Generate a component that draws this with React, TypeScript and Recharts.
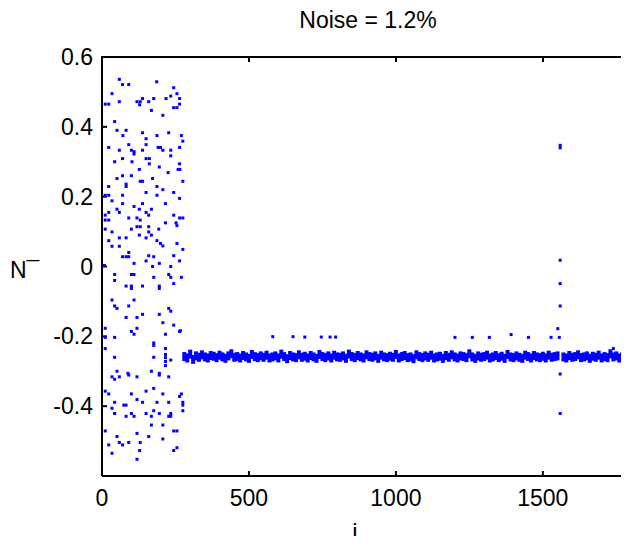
import React from 'react';
import { ScatterChart, Scatter, XAxis, YAxis } from 'recharts';

// scattered start of the run (i < ~280)
const scatterI = [
  59, 70, 91, 186, 244, 34, 138, 176, 218, 234, 255, 264, 11, 23, 59, 119, 130, 128, 159, 264,
  244, 255, 168, 207, 43, 51, 82, 138, 227, 71, 187, 270, 150, 275, 91, 150, 23, 191, 199, 59,
  100, 138, 207, 234, 109, 109, 264, 234, 70, 150, 161, 43, 102, 264, 161,
  127, 195, 259, 265, 225, 70, 100, 51, 130, 138, 172, 275, 82, 82, 23, 187, 207, 150, 244, 70,
  187, 11, 23, 34, 264, 70, 138, 109, 216, 51, 127, 168, 23, 59, 150, 11, 159, 244, 91, 119,
  264, 275, 11, 23, 130, 216, 252, 255, 119, 130, 159, 11, 100, 159, 193, 34, 127, 168, 59, 82,
  150, 23, 187, 199, 207, 255, 34, 59, 275, 91, 70, 82, 91, 159, 176, 150, 195, 244, 109, 264,
  172, 234, 8,
  43, 100, 109, 176, 227, 234, 270, 43, 244, 82, 100, 138, 195, 195, 100, 34, 109, 43, 91, 51,
  227, 234, 138, 195, 82, 119, 207, 244, 11, 119, 100, 264, 109, 216, 11, 43, 176, 176, 216, 11,
  216, 216, 216, 216, 176, 43, 234, 51, 88, 168, 195, 267,
  34, 59, 91, 119, 43, 195, 227, 176, 11, 23, 100, 150, 207, 264, 270, 119, 43, 138, 187, 227,
  275, 275, 74, 82, 34, 176, 275, 43, 100, 150, 195, 234, 82, 109, 168, 227, 234, 168, 207, 119,
  244, 255, 11, 159, 51, 207, 59, 91, 130, 23, 70, 255, 128, 244, 34, 119,
];
const scatterZ = [
  0.536, 0.521, 0.521, 0.529, 0.512, 0.495, 0.481, 0.481, 0.481, 0.488, 0.495, 0.481, 0.465, 0.465, 0.472, 0.472, 0.472, 0.463, 0.472, 0.465,
  0.455, 0.455, 0.447, 0.433, 0.415, 0.39, 0.39, 0.383, 0.383, 0.375, 0.375, 0.375, 0.366, 0.359, 0.349, 0.349, 0.341, 0.341, 0.341, 0.333,
  0.333, 0.333, 0.333, 0.333, 0.329, 0.322, 0.341, 0.317, 0.309, 0.309, 0.309, 0.3, 0.3, 0.294, 0.294,
  0.278, 0.285, 0.278, 0.278, 0.269, 0.26, 0.26, 0.252, 0.244, 0.244, 0.252, 0.244, 0.236, 0.229, 0.229, 0.229, 0.22, 0.212, 0.212, 0.204,
  0.204, 0.204, 0.204, 0.188, 0.195, 0.18, 0.18, 0.172, 0.18, 0.164, 0.164, 0.164, 0.155, 0.155, 0.155, 0.147, 0.147, 0.147, 0.139, 0.139,
  0.139, 0.139, 0.133, 0.133, 0.133, 0.125, 0.125, 0.117, 0.114, 0.114, 0.114, 0.107, 0.107, 0.099, 0.107, 0.099, 0.09, 0.09, 0.082, 0.082,
  0.082, 0.074, 0.074, 0.066, 0.059, 0.066, 0.058, 0.058, 0.049, 0.04, 0.028, 0.028, 0.028, 0.031, 0.028, 0.016, 0.009, 0.031, 0.009, 0.016,
  0.0, 0.0, 0.003,
  -0.023, -0.023, -0.023, -0.031, -0.023, -0.031, -0.031, -0.04, -0.049, -0.056, -0.056, -0.056, -0.056, -0.063, -0.063, -0.096, -0.096, -0.113, -0.113, -0.12,
  -0.12, -0.128, -0.137, -0.137, -0.146, -0.146, -0.161, -0.168, -0.177, -0.177, -0.186, -0.186, -0.194, -0.194, -0.203, -0.203, -0.219, -0.226, -0.235, -0.235,
  -0.252, -0.261, -0.272, -0.284, -0.26, -0.26, -0.268, -0.3, -0.306, -0.3, -0.306, -0.184,
  -0.316, -0.316, -0.311, -0.316, -0.323, -0.311, -0.316, -0.349, -0.357, -0.365, -0.365, -0.357, -0.365, -0.372, -0.365, -0.381, -0.389, -0.389, -0.389, -0.389,
  -0.389, -0.397, -0.397, -0.397, -0.406, -0.413, -0.413, -0.421, -0.421, -0.421, -0.421, -0.421, -0.429, -0.429, -0.429, -0.429, -0.429, -0.454, -0.454, -0.478,
  -0.471, -0.471, -0.471, -0.487, -0.487, -0.494, -0.504, -0.504, -0.504, -0.511, -0.511, -0.519, -0.527, -0.527, -0.535, -0.552,
];

// settled band, one value every 10 steps of i from 280
const bandStart = 280;
const bandStep = 10;
const bandZ = [
  -0.258, -0.262, -0.251, -0.266, -0.256, -0.26, -0.253, -0.259, -0.262, -0.255,
  -0.257, -0.261, -0.254, -0.259, -0.263, -0.256, -0.25, -0.26, -0.258, -0.262,
  -0.255, -0.259, -0.263, -0.252, -0.258, -0.261, -0.256, -0.26, -0.254, -0.262,
  -0.259, -0.256, -0.262, -0.251, -0.258, -0.264, -0.255, -0.259, -0.261, -0.253,
  -0.26, -0.257, -0.262, -0.255, -0.259, -0.263, -0.252, -0.258, -0.261, -0.256,
  -0.262, -0.254, -0.259, -0.26, -0.256, -0.263, -0.251, -0.258, -0.261, -0.255,
  -0.259, -0.262, -0.253, -0.258, -0.26, -0.256, -0.263, -0.254, -0.259, -0.261,
  -0.257, -0.26, -0.252, -0.262, -0.258, -0.255, -0.261, -0.259, -0.264, -0.253,
  -0.258, -0.261, -0.256, -0.26, -0.254, -0.262, -0.259, -0.257, -0.263, -0.255,
  -0.26, -0.253, -0.259, -0.262, -0.256, -0.258, -0.261, -0.25, -0.259, -0.263,
  -0.256, -0.26, -0.258, -0.254, -0.262, -0.259, -0.255, -0.261, -0.257, -0.263,
  -0.252, -0.259, -0.261, -0.256, -0.26, -0.263, -0.254, -0.258, -0.262, -0.255,
  -0.259, -0.261, -0.257, -0.262, -0.254, -0.26, -0.258, -0.256, null, -0.259,
  -0.262, -0.255, -0.26, -0.258, -0.253, -0.261, -0.259, -0.256, -0.263, -0.257,
  -0.26, -0.254, -0.262, -0.258, -0.261, -0.25, -0.259, -0.256, -0.262, -0.258,
  -0.255, -0.261, -0.258,
];

// stray points after the run settles
const strayI = [581, 650, 690, 746, 776, 795, 1201, 1260, 1318, 1392, 1451, 1528, 1556, 1551, 1740, 1559, 1559, 1559, 1559, 1559, 1559, 1559];
const strayZ = [-0.201, -0.201, -0.202, -0.202, -0.202, -0.202, -0.203, -0.203, -0.203, -0.195, -0.203, -0.203, -0.203, -0.178, -0.235, 0.347, 0.34, 0.018, -0.049, -0.113, -0.308, -0.421];

const xTicks = [0, 500, 1000, 1500];
const yTicks = [-0.4, -0.2, 0, 0.2, 0.4, 0.6];
const X_MAX = 1800;
const Y_MIN = -0.6;
const Y_MAX = 0.6;

// plot box geometry
const CHART_W = 640;
const CHART_H = 544;
const PLOT_LEFT = 102;
const PLOT_TOP = 57;
const PLOT_W = 529;
const PLOT_H = 419;
const X_AXIS_H = 30;

const scatterData = scatterI.map((i, k) => ({ i, z: scatterZ[k] }));
const strayData = strayI.map((i, k) => ({ i, z: strayZ[k] }));
const bandData = bandZ
  .map((z, k) => ({ i: bandStart + k * bandStep, z }))
  .filter((d) => d.z !== null);

const BLUE = '#0000ff';
const Dot = (p: any) => <rect x={p.cx - 1.5} y={p.cy - 1.5} width={3} height={3} fill={BLUE} />;
const BandDot = (p: any) => <rect x={p.cx - 2} y={p.cy - 4.5} width={4} height={9} fill={BLUE} />;

const tickFont = { fill: '#000', fontSize: 23 };
const line = { stroke: '#000', strokeWidth: 2 };
const ink: React.CSSProperties = { position: 'absolute', background: '#000' };

export default function App() {
  return (
    <div style={{ position: 'relative', width: 629, height: 544, margin: -8, overflow: 'hidden', background: '#fff', fontFamily: '"Liberation Sans", Arial, sans-serif' }}>
      <ScatterChart width={CHART_W} height={CHART_H}
        margin={{ top: PLOT_TOP, right: CHART_W - PLOT_LEFT - PLOT_W, bottom: CHART_H - PLOT_TOP - PLOT_H - X_AXIS_H, left: 0 }}>
        <XAxis type="number" dataKey="i" domain={[0, X_MAX]} ticks={xTicks} allowDataOverflow
          height={X_AXIS_H} axisLine={line} tickLine={line} tickSize={-5} tickMargin={19} tick={tickFont} />
        <YAxis type="number" dataKey="z" domain={[Y_MIN, Y_MAX]} ticks={yTicks} allowDataOverflow
          width={PLOT_LEFT} axisLine={line} tickLine={line} tickSize={-5} tickMargin={14} tick={tickFont} />
        <Scatter data={bandData} shape={BandDot} isAnimationActive={false} />
        <Scatter data={scatterData} shape={Dot} isAnimationActive={false} />
        <Scatter data={strayData} shape={Dot} isAnimationActive={false} />
      </ScatterChart>

      {/* top and right edges of the box, with inward ticks */}
      <div style={{ ...ink, left: PLOT_LEFT - 1, top: PLOT_TOP - 1, width: PLOT_W + 2, height: 2 }} />
      <div style={{ ...ink, left: PLOT_LEFT + PLOT_W - 1, top: PLOT_TOP - 1, width: 2, height: PLOT_H + 2 }} />
      {xTicks.slice(1).map((t) => (
        <div key={'tx' + t} style={{ ...ink, left: PLOT_LEFT + (t / X_MAX) * PLOT_W - 1, top: PLOT_TOP, width: 2, height: 5 }} />
      ))}
      {yTicks.slice(0, -1).map((t) => (
        <div key={'ty' + t} style={{ ...ink, left: PLOT_LEFT + PLOT_W - 5, top: PLOT_TOP + ((Y_MAX - t) / (Y_MAX - Y_MIN)) * PLOT_H - 1, width: 5, height: 2 }} />
      ))}

      <div style={{ position: 'absolute', left: 268, width: 200, top: 9, textAlign: 'center', fontSize: 23, lineHeight: '23px' }}>
        Noise = 1.2%
      </div>
      <div style={{ position: 'absolute', left: 10, top: 259, fontSize: 23, lineHeight: '23px' }}>
        N¯
      </div>
      <div style={{ position: 'absolute', left: 305, width: 100, top: 523, textAlign: 'center', fontSize: 24, lineHeight: '18px' }}>
        i
      </div>
    </div>
  );
}
